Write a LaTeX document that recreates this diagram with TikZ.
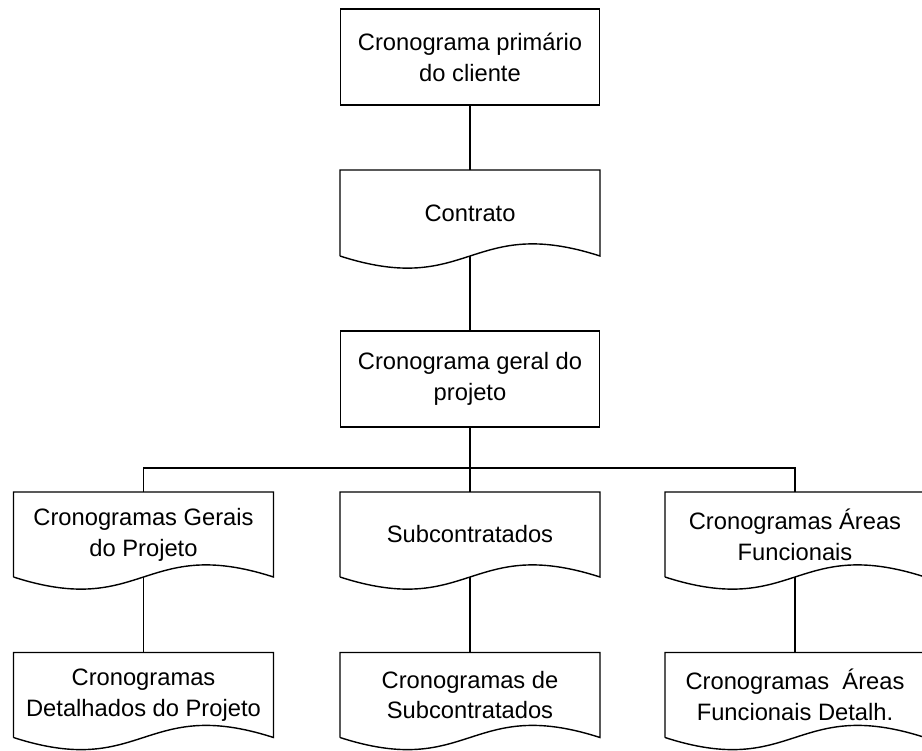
\documentclass[tikz,border=0pt]{standalone}
\usepackage{fontspec}
\setmainfont{Liberation Sans}
\usetikzlibrary{positioning}

\begin{document}
\begin{tikzpicture}[line width=0.8pt, outer sep=0pt, inner sep=0pt,
      font=\fontsize{13.5}{17.5}\selectfont,
      box/.style={draw, rectangle, minimum width=5.18cm, minimum height=1.92cm, align=center},
      doc/.style={rectangle, minimum width=5.2cm, minimum height=1.7cm, align=center}]
      \useasboundingbox (0,0) rectangle (18.44,-15);
      % top column;
      \node[box] (cliente) at (9.4,-1.14) {Cronograma primário\\do cliente};
      \node[doc, minimum height=1.72cm] (contrato) at (9.4,-4.26) {Contrato};
      \node[box] (geral) at (9.4,-7.58) {Cronograma geral do\\projeto};
      \coordinate (bus) at (9.4,-9.36);
      % first row;
      \node[doc] (gerais) at (2.87,-10.69) {Cronogramas Gerais\\do Projeto};
      \node[doc] (sub) at (9.4,-10.69) {Subcontratados};
      \node[doc] (areas) at (15.9,-10.69) {Cronogramas Áreas\\Funcionais};
      % second row;
      \node[doc] (detalhados) at (2.87,-13.9) {Cronogramas\\Detalhados do Projeto};
      \node[doc] (csub) at (9.4,-13.9) {Cronogramas de\\Subcontratados};
      \node[doc] (cdet) at (15.9,-13.9) {Cronogramas\ \ Áreas\\Funcionais Detalh.};
      % document outlines;
      \foreach \n in {contrato, gerais, sub, areas, detalhados, csub, cdet}
        \draw (\n.south west) -- (\n.north west) -- (\n.north east) -- (\n.south east)
          .. controls ([yshift=0.84cm]\n.south) and ([yshift=-0.84cm]\n.south) .. (\n.south west);
      % connectors;
      \draw (cliente) -- (contrato);
      \draw (contrato.south) -- (geral);
      \draw (geral) -- (sub);
      \draw (gerais.north) |- (bus) -| (areas.north);
      \draw (gerais.south) -- (detalhados);
      \draw (sub.south) -- (csub);
      \draw (areas.south) -- (cdet);
\end{tikzpicture}
\end{document}
